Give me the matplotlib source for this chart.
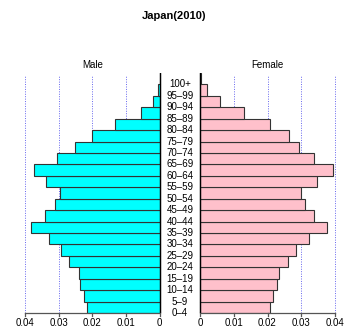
import matplotlib
matplotlib.use("Agg")
import matplotlib.pyplot as plt
import numpy as np

age_groups = ["0-4", "5-9", "10-14", "15-19", "20-24", "25-29", "30-34", "35-39",
              "40-44", "45-49", "50-54", "55-59", "60-64", "65-69", "70-74", "75-79",
              "80-84", "85-89", "90-94", "95-99", "100+"]
male = [0.0215, 0.0224, 0.0237, 0.0241, 0.0271, 0.0295, 0.0329, 0.0383,
        0.0341, 0.0311, 0.0298, 0.0338, 0.0375, 0.0306, 0.0252, 0.0202,
        0.0132, 0.0057, 0.0020, 0.0005, 0.00005]
female = [0.0207, 0.0216, 0.0228, 0.0234, 0.0261, 0.0286, 0.0323, 0.0378,
          0.0338, 0.0311, 0.0301, 0.0348, 0.0395, 0.0339, 0.0293, 0.0264,
          0.0207, 0.0130, 0.0059, 0.0020, 0.0003]
ticks = [0, 0.01, 0.02, 0.03, 0.04]
tick_labels = ["0", "0.01", "0.02", "0.03", "0.04"]

W, H = 347, 332
fig = plt.figure(figsize=(W / 100, H / 100), dpi=100)
k = 0.01 / 33.6           # data units per pixel
center = 180
gap = 20.3 * k
top_px, bot_px = 73, 313
ax = fig.add_axes([0, (H - bot_px) / H, 1, (bot_px - top_px) / H])
ax.set_xlim(-center * k, (W - center) * k)
n = len(age_groups)
ax.set_ylim(0, n)
ax.axis("off")
row_px = (bot_px - top_px) / n

y = np.arange(n) + 0.5
# grid
for t in ticks[1:]:
    for s in (-1, 1):
        ax.plot([s * (gap + t)] * 2, [0, n - 0.15], color="#6666ee", lw=0.7,
                linestyle=(0, (1, 1.5)), zorder=1)
ax.barh(y, [-v for v in male], left=-gap, height=1.0, color="#00ffff",
        edgecolor="#333333", linewidth=0.8, zorder=2)
ax.barh(y, female, left=gap, height=1.0, color="#ffc0cb",
        edgecolor="#333333", linewidth=0.8, zorder=2)
for s in (-1, 1):
    ax.plot([s * gap] * 2, [0, n], color="black", lw=1.0, zorder=3)

for yi, lab in zip(np.arange(n), age_groups):
    ax.text(0, yi, lab.replace("-", "\u2013"), ha="center", va="center",
            fontsize=7, family="Liberation Sans", clip_on=False)

# bottom axes
tl = 3 / row_px
for s in (-1, 1):
    ax.plot([s * gap, s * (gap + 0.04)], [0, 0], color="#555555", lw=0.9,
            clip_on=False, zorder=3)
    for t, lab in zip(ticks, tick_labels):
        x = s * (gap + t)
        ax.plot([x, x], [0, -tl], color="#555555", lw=0.9, clip_on=False)
        ax.text(x, -9.5 / row_px, lab, ha="center", va="center", fontsize=7,
                family="Liberation Sans")

ax.text(-(gap + 0.02), n + 8 / row_px, "Male", ha="center", va="center",
        fontsize=7, family="Liberation Sans")
ax.text(gap + 0.02, n + 8 / row_px, "Female", ha="center", va="center",
        fontsize=7, family="Liberation Sans")
fig.text(174 / W, 1 - 16 / H, "Japan(2010)", ha="center", va="center",
         fontsize=8, fontweight="bold", family="Liberation Sans")

fig.savefig("out.png", dpi=100)
